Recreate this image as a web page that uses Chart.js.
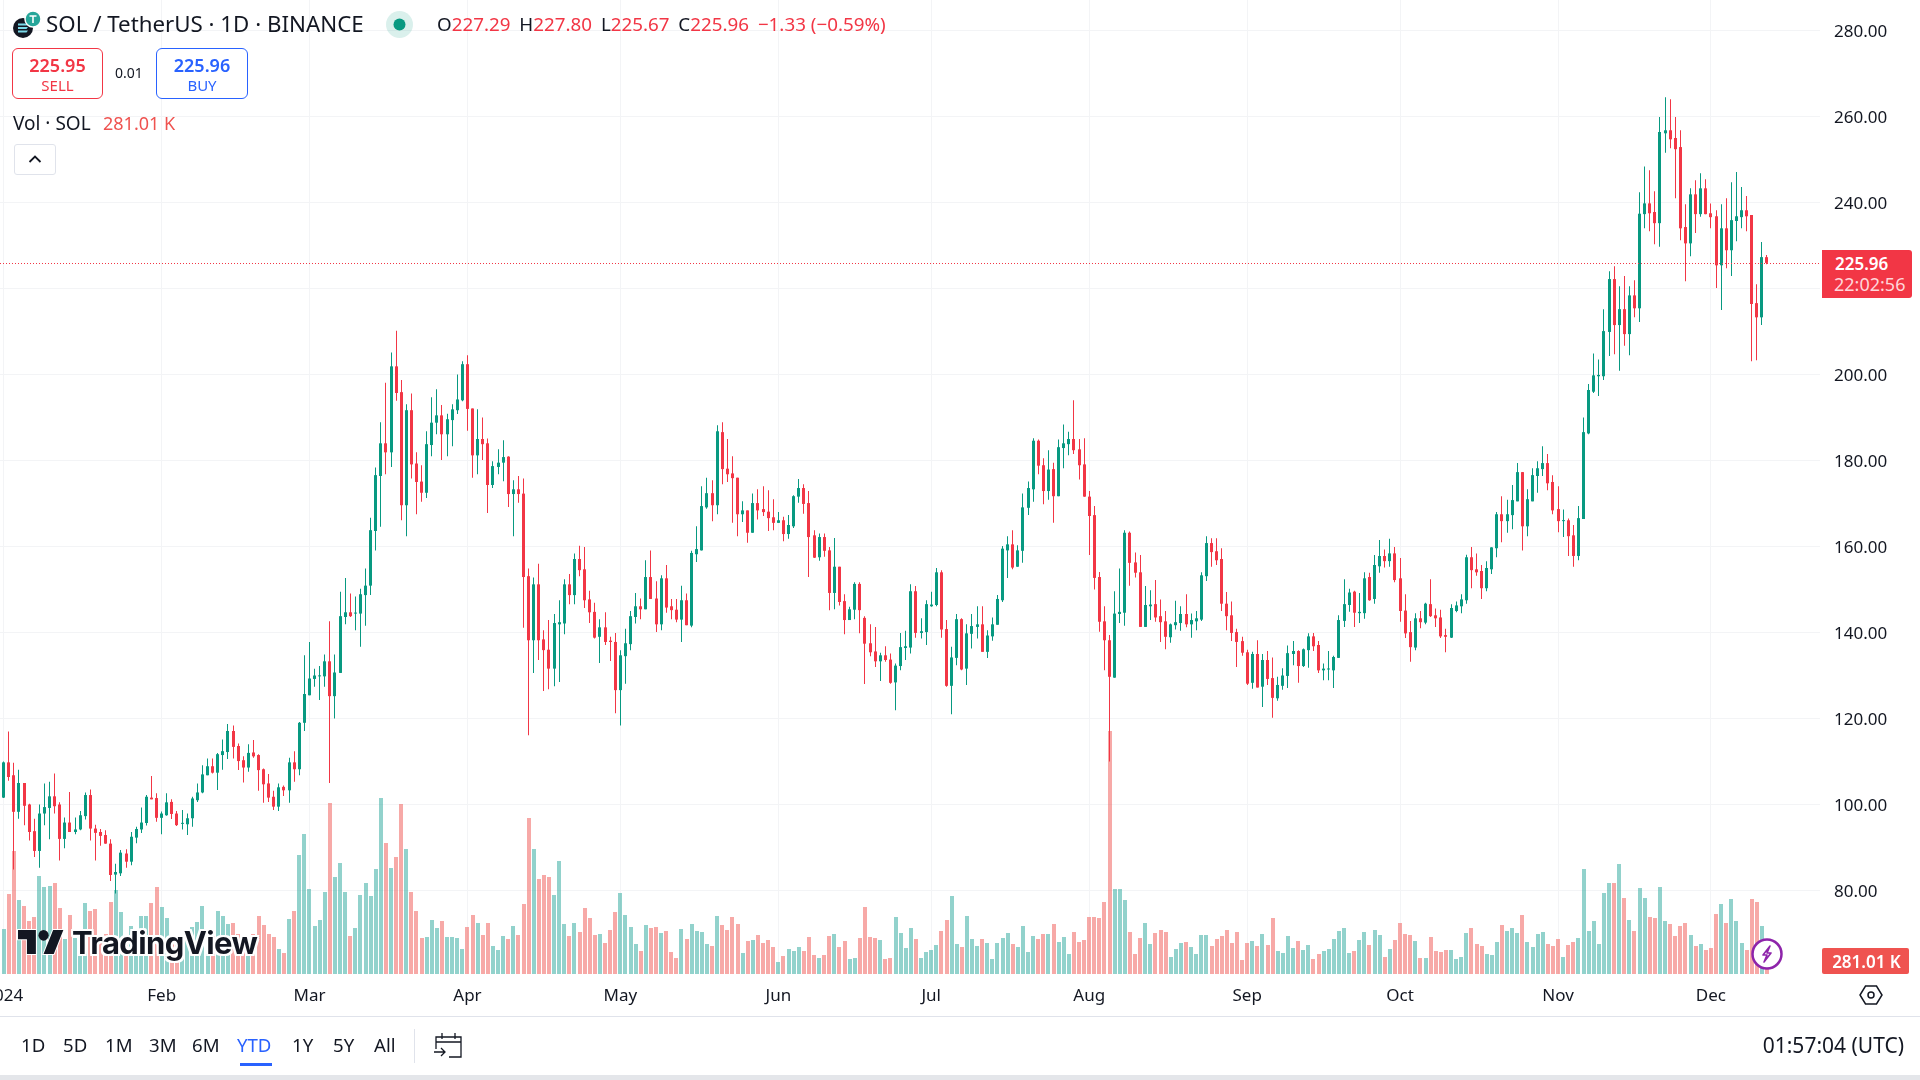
<!DOCTYPE html>
<html><head><meta charset="utf-8"><title>SOL / TetherUS</title>
<script src="https://cdn.jsdelivr.net/npm/chart.js@4/dist/chart.umd.min.js"></script>
<style>
html,body{margin:0;padding:0;background:#fff;overflow:hidden;width:1920px;height:1080px;font-family:"Noto Sans",sans-serif;color:#131722}
canvas{position:absolute;left:0;top:0}
.t{position:absolute;white-space:nowrap;line-height:1}
.box{position:absolute;box-sizing:border-box;background:#fff}
svg{position:absolute;overflow:visible}
</style></head><body>
<canvas id="c" width="1920" height="1080"></canvas>

<svg style="left:12px;top:8px" width="32" height="32" viewBox="0 0 32 32">
 <circle cx="11" cy="20" r="10" fill="#131722"/>
 <path d="M6 15.5h10l-1.5 2H6zM6 19h10l-1.5 2H6zM6 22.5h10l-1.5 2H6z" fill="#7ad9e8"/>
 <circle cx="21" cy="11" r="8" fill="#26a69a" stroke="#fff" stroke-width="1.5"/>
 <path d="M17.5 8h7M21 8v7" stroke="#fff" stroke-width="1.6"/>
</svg>
<div class="t" style="left:46px;top:13px;font-size:22.3px" id="title">SOL / TetherUS · 1D · BINANCE</div>
<svg style="left:386px;top:11px" width="27" height="27"><circle cx="13.5" cy="13.5" r="13.5" fill="#089981" fill-opacity=".15"/><circle cx="13.5" cy="13.5" r="6" fill="#089981"/></svg>
<div class="t" style="left:437px;top:15px;font-size:18.8px;color:#F23645" id="ohlc"><span style="color:#131722">O</span>227.29 <span style="color:#131722;margin-left:4px">H</span>227.80 <span style="color:#131722;margin-left:4px">L</span>225.67 <span style="color:#131722;margin-left:4px">C</span>225.96 <span style="margin-left:4px">−1.33 (−0.59%)</span></div>

<div class="box" style="left:12px;top:48px;width:91px;height:51px;border:1px solid #F23645;border-radius:6px"></div>
<div class="t" style="left:12px;width:91px;text-align:center;top:56px;font-size:18px;font-weight:600;color:#F23645">225.95</div>
<div class="t" style="left:12px;width:91px;text-align:center;top:78px;font-size:15px;color:#F23645">SELL</div>
<div class="t" style="left:115px;top:66px;font-size:14px">0.01</div>
<div class="box" style="left:156px;top:48px;width:92px;height:51px;border:1px solid #2962FF;border-radius:6px"></div>
<div class="t" style="left:156px;width:92px;text-align:center;top:56px;font-size:18px;font-weight:600;color:#2962FF">225.96</div>
<div class="t" style="left:156px;width:92px;text-align:center;top:78px;font-size:15px;color:#2962FF">BUY</div>

<div class="t" style="left:13px;top:114px;font-size:19px">Vol · SOL</div>
<div class="t" style="left:103px;top:114px;font-size:18px;color:#EF5350">281.01 K</div>
<div class="box" style="left:14px;top:144px;width:42px;height:31px;border:1px solid #E0E3EB;border-radius:3px"></div>
<svg style="left:14px;top:144px" width="42" height="31"><path d="M15.5 18l5.5-5.5 5.500 5.500" fill="none" stroke="#131722" stroke-width="1.8"/></svg>

<svg style="left:18px;top:930px" width="46" height="24" viewBox="0 4 36 18" preserveAspectRatio="none"><path d="M14 22H7V11H0V4h14v18zM28 22h-8l7.500-18h8L28 22z" fill="#131722" stroke="#fff" stroke-width="1.500" paint-order="stroke"/><circle cx="20" cy="8" r="4" fill="#131722"/></svg>
<div class="t" style="left:72px;top:927px;font-size:31px;font-family:Inter,sans-serif;font-weight:700;letter-spacing:-.6px;text-shadow:2px 0 #fff,-2px 0 #fff,0 2px #fff,0 -2px #fff,2px 2px #fff,-2px -2px #fff,2px -2px #fff,-2px 2px #fff">TradingView</div>

<div class="box" style="left:1822px;top:250px;width:90px;height:48px;background:#F23645;border-radius:0 3px 3px 0"></div>
<div class="t" style="left:1835px;top:255px;font-size:17px;font-weight:600;color:#fff">225.96</div>
<div class="t" style="left:1834px;top:275px;font-size:18px;color:#FFD5D9">22:02:56</div>
<div class="box" style="left:1822px;top:948px;width:87px;height:26px;background:#EF5350;border-radius:2px"></div>
<div class="t" style="left:1823px;width:87px;text-align:center;top:953px;font-size:17px;font-weight:600;color:#fff">281.01 K</div>

<svg style="left:1751px;top:938px" width="32" height="32"><circle cx="16" cy="16" r="14.500" fill="#fff" stroke="#8E24AA" stroke-width="2.500"/><path d="M19 8l-7 9h4l-3 7 7-9h-4z" fill="none" stroke="#8E24AA" stroke-width="1.600" stroke-linejoin="round"/></svg>
<svg style="left:1859px;top:984px" width="24" height="22"><path d="M6.500 2h11L23 11l-5.500 9h-11L1 11z" fill="none" stroke="#131722" stroke-width="1.500"/><circle cx="12" cy="11" r="3" fill="none" stroke="#131722" stroke-width="1.500"/></svg>

<div class="box" style="left:0;top:1016px;width:1920px;height:1px;background:#E0E3EB"></div>
<div id="ranges"></div>
<div class="box" style="left:240px;top:1063px;width:32px;height:3px;background:#2962FF"></div>
<div class="box" style="left:414px;top:1029px;width:1px;height:34px;background:#E0E3EB"></div>
<svg style="left:434px;top:1032px" width="29" height="27" fill="none" stroke="#131722" stroke-width="1.300"><path d="M2 17V5h25v20H15M2 10h25M8 1v6M21 1v6M0 20h11M7 16l4 4-4 4"/></svg>
<div class="t" style="right:16px;top:1035px;font-size:21px" id="clock">01:57:04 (UTC)</div>
<div class="box" style="left:0;top:1075px;width:1920px;height:5px;background:#E4E6EA"></div>

<script>
// Candle index 0 = 1 Jan 2024, one candle per day
const openPrices=[
101.6,109.8,106.8,98.3,105,100,93.8,89.2,97.9,99.2,
101.9,100,92,95.8,93.6,94.2,97.3,102.2,94.4,93.6,
92.9,90.9,83.7,84,88.6,86.7,92.3,94.2,95.7,101.6,
101.5,96.9,97.5,100.6,97.9,95.5,95.4,96.8,101,102.8,
106.8,108.9,107.4,111.5,112.2,117.1,113.6,110.3,108.6,112.1,
111.5,108.2,104.9,101.8,99.5,104.1,103.3,109.8,108.2,119,
125.4,129.2,129.8,129.8,133.3,125.2,130.6,143.6,144.7,144.4,
144.4,148.7,150.9,163.6,176.4,184,181.9,201.9,195.9,169.6,
191.7,179.3,175.1,172.5,183.6,188.8,190.5,186.1,189.4,191.7,
194,202.4,192.1,181.2,185,184,174.3,178.5,179.5,180.9,
172.2,173.3,172.3,153.1,138.2,151.2,138.4,136,131.6,141.9,
142.1,151.2,148.7,157.1,154.7,147.7,144.8,139,141.2,138.1,
137.8,126.6,134.5,137.3,143.6,146.1,145.4,152.9,147.9,141.9,
152.6,146.1,145.3,143,147.5,141.6,158.2,159.1,169.1,172.4,
169.6,186.6,178.1,177,176,167.5,168.4,163.2,170.1,168.7,
168.1,166.8,165.5,166.1,162.9,164.7,171.6,173.6,170.1,162.6,
157.5,162.2,159.1,149.2,155.3,147.3,142.9,145.3,151.3,143.4,
137.5,135.6,133.3,134.7,133.7,128.4,132.2,136.4,136.5,149.6,
139.9,140.1,146.1,146.4,154,140.8,127.6,134.1,143.1,131.6,
139.7,141.3,141.9,135.5,139.1,141.8,147.5,159.1,160.5,155.3,
159,169,173.3,184.6,178.9,172.9,178,171.7,182.9,183.8,
185,182.6,179.1,171.6,167.3,152.9,142.6,138.2,129.5,144.3,
144.6,163.2,156.3,154,141.3,146.1,146.6,143.8,142.6,138.9,
141.7,142.2,144.3,141.9,142.6,143,153.1,160.8,158.9,157.1,
146.7,144,140.1,138,135.4,128.3,135,127.4,133.6,129.4,
124.7,127.6,129.9,135,135.7,132.2,135.9,139.1,137.1,131.2,
131.4,131.2,134.1,142.7,146.4,149.5,144.5,144.5,152.9,147.8,
155.4,157.8,156.6,158.4,152.6,145.1,140.1,136.5,143.3,142.3,
146.6,144,143.5,139.4,138.8,145,146.1,147.5,157.5,154.7,
154.3,150.3,154.7,159.6,167.5,165.9,167.3,170.5,177.3,164.7,
170.5,176.4,178,179.4,175,168.7,165.9,166.1,162.6,157.8,
166.4,186.3,196,199.6,199.6,209.9,222.2,211.5,215.2,209.4,
218.4,215.4,237.3,239.8,237.8,235.2,256.1,256.8,255,252.9,
234.3,230.5,241.9,237.3,243.3,237.5,236.8,225.4,234,228.9,
235.7,236.6,238.2,237.1,216.6,213.3,227.29];
const closePrices=[
109.8,106.4,98.3,105,99.7,93.6,89.2,97.9,99.4,101.9,
99.6,92,95.8,93.6,94.2,97.5,102.2,94.4,93.4,92.7,
90.9,83.6,84.3,88.8,86.7,92.5,94.3,95.8,101.8,101.2,
96.9,97.9,100.5,97.8,95.2,95.6,96.8,101.4,102.8,107,
108.9,107.4,111.7,112.4,117.1,113.4,110.1,108.6,112,111.2,
108,104.7,101.6,99.5,104,103.3,109.8,108.2,119,125.7,
129.3,130,130,133.3,125.2,130.7,143.8,144.7,143.8,144.5,
148.9,150.9,163.8,176.6,184,181.9,201.9,195.7,169.6,191.7,
179.1,175,172.5,183.8,188.8,190.5,186.1,189.6,191.9,194.2,
202.4,192,181.2,185,183.8,174.3,178.7,179.5,180.8,172.2,
173.3,172.2,152.9,138.2,151.2,138.2,135.9,131.6,142.2,142.4,
151.2,148.7,157.1,154.5,147.5,144.7,138.8,141.2,137.8,137.8,
126.6,134.7,137.5,143.8,146.1,145.4,152.9,147.8,141.9,152.6,
145.8,145.2,143,147.5,141.7,158.5,159.4,169.4,172.4,169.6,
186.8,178,176.8,175.9,167.5,168.4,163.2,170.1,168.4,168,
166.6,165.5,166.1,162.9,165,171.7,173.6,169.9,162.2,157.4,
162.2,159,149.2,155.3,147.1,142.9,145.4,151.3,145.2,137.4,
135.4,133.3,134.7,133.6,128.3,132.3,136.6,136.8,149.6,139.9,
140.3,146.6,146.5,154,140.7,127.6,134.2,143.1,131.4,139.8,
141.5,141.9,135.5,139.3,141.9,147.8,159.5,160.5,155.1,159.1,
169.1,173.6,184.6,178.8,172.9,177.9,171.7,183.1,184,185,
182.4,178.9,171.6,167.1,152.7,142.5,138.2,129.7,144.4,144.8,
163.2,156.2,153.9,141.3,146.4,146.5,143.5,142.4,139,141.9,
142.4,144.3,141.9,142.9,143.3,153.3,160.8,158.7,156.8,146.7,
143.8,139.9,137.8,135.3,128.1,135,127.2,133.6,129.2,124.8,
127.8,130,135.2,135.7,132.2,136.1,139.1,136.8,131.2,131.6,
131.6,134.3,142.9,146.6,149.3,144.6,144.8,152.6,147.5,155.7,
157.8,156.6,158.4,152.2,145,139.8,136.6,143.3,142.4,146.7,
143.8,143.3,139.1,139,145.7,146.3,147.7,157.5,154.5,154,
150.3,155,159.8,167.5,165.9,167.5,170.8,177.3,164.7,171,
176.6,178.2,179.4,174.7,168.4,165.9,166.1,162.4,157.8,166.6,
186.6,196.4,199.8,199.9,210.1,222.2,211.5,215.2,209.4,218.4,
215.4,237.4,239.8,237.5,235.2,256.4,256.8,254.7,252.4,234,
230.5,241.9,237.3,243.3,237.3,236.6,225.4,234,228.9,235.9,
236.8,238.2,236.8,216.4,213.3,227.3,225.96];
const highPrices=[
110,117,109.7,108.1,105,100.2,96.7,100,104.9,105.3,
107.2,100.5,97,102.9,97,98.5,102.8,103.5,95.3,94.3,
94,91.9,86.2,89.4,89.6,93.6,94.8,99.3,102.2,106.6,
102.6,98.4,102.6,101.2,98.5,98.7,97.9,101.8,104.9,109.1,
110.7,110.7,112,115.1,118.7,118.4,114.2,111.2,114,115,
111.7,108.4,107.1,103.2,104.9,104.4,110.9,112.4,119.2,134.7,
137.8,131.6,132.2,134.9,142.6,134.9,149.5,152.7,149.1,148.4,
150.2,154.9,166.7,178.4,188.9,198.1,205.1,210.2,198.7,193.1,
195.6,181.9,178.9,186.8,194.7,196.6,192.9,190.9,193.1,200,
203.1,204.5,192.1,191.9,190,185.1,179.8,182.6,184.7,181,
175.4,176.4,175.8,154.9,152.8,156,140.5,142.9,144.3,147.5,
152.4,153.6,158.4,160.2,159.9,149.7,146.9,143.1,144.7,139,
139.9,135.9,140.9,145,149.2,147.9,156.8,159.1,151.9,153.3,
155.7,147.8,147.8,150.9,149.1,159,164.7,174,176,175.4,
188.2,188.9,185,181,176,170.5,168.4,172.3,173.3,174,
173.1,171,168,166.9,167.3,171.9,175.7,174.5,172.9,163.8,
163,163,159.9,162,155.3,148.9,146,151.7,151.7,143.8,
141.9,141.3,135.3,136.8,135.1,132.8,139.9,140.4,151.2,150.8,
143.3,147.5,149.5,155,154.5,142.9,136.7,144.3,143.3,141.9,
144.3,146.1,146.1,140.5,143.5,148.7,160.1,162.4,163.8,160.3,
172.3,175.1,185.2,184.9,180.5,182.4,179.5,184.9,188.4,186.7,
194,185,185.2,172.9,169.4,154.1,146.1,139.4,149.6,154.9,
163.8,163.5,158.6,158,150.8,149.8,152.2,147.7,145,142.1,
147.4,146.1,148.9,144.4,145,154,162.4,161.9,161.9,159.6,
149.4,147.2,140.9,139,136,135.5,138.2,135,135.7,134.2,
129.7,131.7,137,138,135.9,136.3,139.8,139.9,138,132.8,
135.7,134.6,144,152.4,150.2,149.7,149.2,154,153.9,158,
161.5,159.3,161.8,159.9,157.3,148.9,142.7,144.5,145,146.9,
152.4,145.6,145.3,140.9,146.6,147.2,148.9,158.1,159.9,158.4,
155.7,156.6,159.8,168,171.7,170.9,174.3,179.4,177.3,173.3,
178.2,179.8,183.3,181.5,176.6,174,168.6,166.5,165,169.4,
190,197.8,204.9,203.5,215.2,224,225.2,220.5,222.9,220.5,
221.9,242.4,248.4,247.5,242.6,259.9,264.5,264,259.9,256.8,
239.6,243.3,245.2,246.8,245.4,239.8,238.2,239.6,241,244.7,
247.1,243.6,241.5,237.1,221,230.8,227.8];
const lowPrices=[
101.5,105.5,84.9,96.7,95.2,91.6,87.8,85.3,95.2,91.9,
97.9,87,89.8,93.6,93.1,94,96.5,91.6,87,90.4,
90.9,82.2,79.3,83.4,85.3,85.9,91,93.4,95.1,101.2,
96,93.1,97.4,96.6,95,94.2,92.9,94.8,100.6,102.6,
106.8,107.2,103.4,108.1,110.6,110.7,108,105.1,107.6,110.9,
103.2,100.4,100.6,98.7,98.5,102,100.4,105.3,106.8,117.1,
125.4,127.4,124.3,127.4,105,120,130.6,141.9,143.6,140.5,
136.7,141.6,148.7,159.1,164.6,176.8,178.5,193.9,166.1,162.4,
175.8,167.5,170.4,171.3,181,186.1,180.1,181,183.3,190.8,
193.8,186.9,176,176.8,180.1,167.8,173.6,176.8,175.2,169.2,
162.4,170.2,141.1,116.1,130.6,133.6,126.4,126.8,127.5,128.5,
139.6,146.6,146.6,153.1,145.7,142.2,138.6,132.9,137.1,133.4,
121.2,118.4,128.1,135.9,142.1,143.1,145.4,147.8,140.1,140.5,
144.6,143.1,142.4,137.8,141.7,141.2,156.4,159.1,168.8,165.9,
167.5,174.5,175,165.5,162.4,165.7,160.9,163.2,166.3,167.1,
163.6,163.8,165.5,161.2,161.8,164.3,170.2,167.6,152.9,157.3,
156.7,157.6,145.2,145.4,146.3,139.6,142.9,143.1,139.8,128,
134.5,132,128.7,133.2,128.1,121.9,131.2,133.6,135.1,138.8,
138.6,137.1,146,146.1,138.8,127.4,121,132.4,131.2,127.8,
136.3,138.6,135.5,134.1,138.1,141.8,147.1,152.7,154.7,155.3,
156.2,167.3,170.4,176.8,169.8,170.9,165.5,171.7,178.2,181.2,
181.5,175.6,171.6,158,150,140.2,131.2,110,129.5,142.2,
141.6,150.9,152.8,141.3,141.3,142.9,142.5,137.8,136.1,137.6,
140.7,140.4,141.2,138.8,140.5,142.7,152,155.3,155.7,145,
140.5,138,132,134.6,127.8,126.9,127.2,122.7,127.8,120.2,
124.1,126.7,127.1,132.4,128.3,132,131.8,135.7,130.6,128.9,
128.9,127.1,134.1,141.3,144.8,141.3,142.2,143.2,147.4,146.7,
153.9,155.1,155.3,151.7,142.5,138.7,133.2,135.9,141,141.9,
143.6,141.3,138.7,135.4,138.7,144.7,144.5,146.7,150.3,153.2,
147.8,149.6,153.6,157.5,161,163.2,164,170.5,159.1,162.4,
170.5,172.5,176.4,173.1,167.5,163.3,162.2,157.8,155.3,156.8,
166.4,186.1,195.7,195,198.7,204.3,204.7,200.9,206.7,204.5,
213.3,212.2,234,233.3,230.3,229.7,251.6,252.6,241,231.2,
221.7,227.5,232.9,236.7,237.3,234,220.1,215,224.7,222.9,
231,234,233.3,203.1,203.3,211.5,225.67];
// Volume, in relative units (its own axis is hidden)
const volumes=[
45,80,123,74,68,53,57,98,87,88,
91,66,35,59,36,38,71,63,65,32,
40,72,84,62,30,48,30,58,58,71,
87,67,56,38,30,25,35,47,52,68,
40,38,63,58,50,51,40,30,35,40,
58,49,40,37,25,21,55,63,119,140,
85,48,54,82,171,97,111,82,38,46,
79,91,78,105,176,131,106,117,170,125,
82,63,36,37,54,46,53,37,37,36,
25,47,59,51,39,51,28,24,38,35,
48,39,70,156,125,95,99,97,79,113,
50,38,51,42,66,56,39,40,31,44,
62,81,59,47,30,23,49,46,47,41,
43,22,16,45,35,50,43,42,30,28,
58,49,44,57,50,21,33,34,39,31,
34,27,12,18,25,23,27,23,37,19,
16,19,38,40,27,33,15,16,36,67,
37,36,34,15,16,57,41,26,46,35,
16,22,24,29,43,54,78,30,27,58,
35,28,35,31,15,31,36,41,30,27,
48,22,38,35,40,40,50,32,37,20,
42,32,34,57,57,56,72,243,85,85,
74,42,20,36,51,30,41,44,42,17,
25,31,32,27,20,39,39,28,35,38,
44,31,42,14,31,33,28,40,29,56,
23,21,38,26,33,24,29,15,20,23,
25,35,43,46,21,23,34,42,29,44,
39,17,25,34,51,40,39,33,16,16,
37,23,22,24,24,15,17,41,46,30,
28,20,19,32,49,43,46,41,59,32,
27,40,42,30,28,35,17,29,32,36,
105,43,53,30,81,91,91,110,76,54,
43,86,76,57,56,87,53,50,38,48,
51,39,28,30,24,26,60,70,51,75,
53,31,24,75,72,48,5];
const monthStarts=[0,31,60,91,121,152,182,213,244,274,305,335];
const monthLabels=['2024','Feb','Mar','Apr','May','Jun','Jul','Aug','Sep','Oct','Nov','Dec'];
const priceTicks=[80,100,120,140,160,180,200,220,240,260,280];
const lastPrice=225.96;
const rangeLabels=['1D','5D','1M','3M','6M','YTD','1Y','5Y','All'];

const UP='#089981',DOWN='#F23645',UPV='rgba(38,166,154,.5)',DOWNV='rgba(239,83,80,.5)',GRID='#F3F4F6',INK='#131722';
const rangeX=[21,63,105,149,192,237,292,333,374];
document.getElementById('ranges').innerHTML=rangeLabels.map((r,i)=>
 `<div class="t" style="left:${rangeX[i]}px;top:1036px;font-size:18.6px;color:${r==='YTD'?'#2962FF':INK}">${r}</div>`).join('');

const isUp=closePrices.map((c,i)=>c>=openPrices[i]);
const xMin=-0.726,xMax=356.4,yMin=60.58,yMax=287.1;
const snap={id:'snap',afterDatasetsUpdate(ch){
  ch.data.datasets.forEach((d,k)=>{
    const pts=ch.getDatasetMeta(k).data;
    if(d.type==='line'){pts.forEach(p=>{p.y=Math.round(p.y)+0.5;});return;}
    pts.forEach(el=>{
      el.x=d.evenWidth?Math.round(el.x):Math.floor(el.x)+0.5;
    });
  });
}};
new Chart(document.getElementById('c'),{
  type:'bar',
  data:{datasets:[
    {label:'Last',type:'line',order:0,data:[{x:xMin,y:lastPrice},{x:xMax,y:lastPrice}],yAxisID:'y',xAxisID:'x',
     borderColor:DOWN,borderWidth:1,borderDash:[1,2],pointRadius:0,fill:false},
    {label:'Body',order:1,grouped:false,yAxisID:'y',barThickness:3,minBarLength:1,inflateAmount:0,
     data:openPrices.map((o,i)=>({x:i,y:[o,closePrices[i]]})),
     backgroundColor:isUp.map(u=>u?UP:DOWN)},
    {label:'Wick',order:2,grouped:false,yAxisID:'y',barThickness:1,inflateAmount:0,
     data:lowPrices.map((l,i)=>({x:i,y:[l,highPrices[i]]})),
     backgroundColor:isUp.map(u=>u?UP:DOWN)},
    {label:'Vol',order:3,grouped:false,yAxisID:'vol',barThickness:4,inflateAmount:0,evenWidth:true,
     data:volumes.map((v,i)=>({x:i,y:v})),
     backgroundColor:isUp.map(u=>u?UPV:DOWNV)}
  ]},
  options:{
    responsive:false,animation:false,events:[],
    layout:{padding:0},
    plugins:{legend:{display:false},tooltip:{enabled:false}},
    scales:{
      x:{type:'linear',position:'bottom',min:xMin,max:xMax,offset:false,
        grid:{color:GRID,offset:false,drawTicks:false},border:{display:false},
        afterBuildTicks(s){s.ticks=monthStarts.map(v=>({value:v}));},
        afterFit(s){s.height=106;s.paddingLeft=0;s.paddingRight=0;},
        ticks:{autoSkip:false,maxRotation:0,padding:12,color:INK,font:{family:'"Noto Sans"',size:17},
          callback(v){const k=monthStarts.indexOf(v);return k<0?'':monthLabels[k];}}},
      y:{type:'linear',position:'right',min:yMin,max:yMax,
        grid:{color:GRID,drawTicks:false},border:{display:false},
        afterBuildTicks(s){s.ticks=priceTicks.map(v=>({value:v}));},
        afterFit(s){s.width=100;s.paddingTop=0;s.paddingBottom=0;},
        ticks:{padding:14,labelOffset:1.5,color:INK,font:{family:'"Noto Sans"',size:17},callback:v=>v.toFixed(2)}},
      vol:{type:'linear',display:false,min:0,max:974}
    }
  },
  plugins:[snap]
});
</script>
</body></html>
